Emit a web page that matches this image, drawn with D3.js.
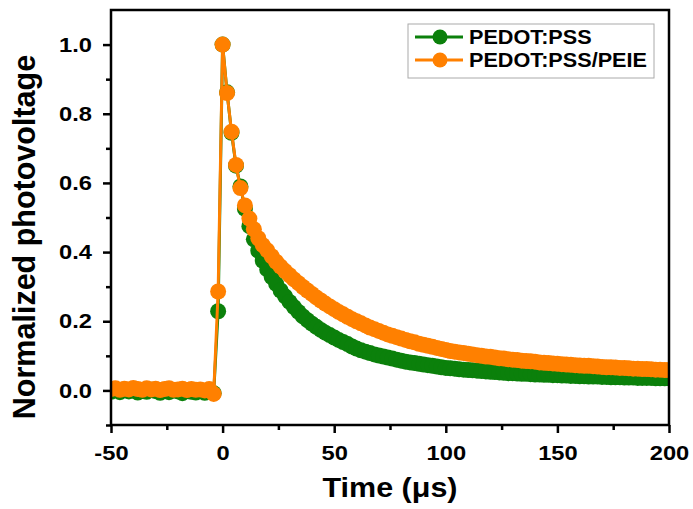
<!DOCTYPE html>
<html>
<head>
<meta charset="utf-8">
<script src="https://cdn.jsdelivr.net/npm/d3@7"></script>
<style>
  body { margin: 0; background: #fff; }
  text { font-family: "Liberation Sans", Arial, sans-serif; font-weight: bold; fill: #000; }
</style>
</head>
<body>
<svg id="chart"></svg>
<script>
// sampling grid of the scope trace, µs
const time = d3.range(-50, 201, 2);

// normalized photovoltage (t = -50 ... 200, step 2)
const pedotPss = [
  -0.004, 0.002, -0.005, 0.001, -0.003, 0.003, -0.006, 0.000, -0.004, 0.002, -0.002, -0.007,
  0.001, -0.005, 0.000, -0.003, -0.008, 0.001, -0.004, -0.006, -0.002, -0.007, -0.003, -0.008,
  0.229,
  1.000, 0.862, 0.745, 0.650, 0.590, 0.525, 0.475, 0.437, 0.404, 0.375, 0.350,
  0.328, 0.308, 0.289, 0.272, 0.256, 0.241, 0.227, 0.214, 0.203, 0.193,
  0.184, 0.175, 0.167, 0.160, 0.153, 0.146, 0.140, 0.134, 0.127, 0.121,
  0.116, 0.112, 0.108, 0.104, 0.101, 0.098, 0.095, 0.092, 0.089, 0.086,
  0.083, 0.081, 0.079, 0.077, 0.075, 0.073, 0.071, 0.069, 0.067, 0.065,
  0.064, 0.063, 0.061, 0.060, 0.059, 0.058, 0.057, 0.056, 0.055, 0.054,
  0.053, 0.052, 0.051, 0.050, 0.050, 0.049, 0.048, 0.048, 0.047, 0.046,
  0.046, 0.045, 0.045, 0.044, 0.044, 0.043, 0.043, 0.042, 0.042, 0.041,
  0.041, 0.040, 0.040, 0.040, 0.039, 0.039, 0.038, 0.038, 0.038, 0.037,
  0.037, 0.037, 0.036, 0.036, 0.036, 0.036, 0.035, 0.035, 0.035, 0.035
];
const pedotPssPeie = [
  0.004, 0.006, 0.002, 0.005, 0.003, 0.007, 0.004, 0.002, 0.006, 0.003, 0.005, 0.001,
  0.004, 0.006, 0.002, 0.003, 0.005, 0.001, 0.004, 0.002, 0.003, 0.000, 0.004, -0.010,
  0.286,
  1.000, 0.860, 0.748, 0.652, 0.585, 0.535, 0.497, 0.466, 0.440, 0.420, 0.405,
  0.388, 0.372, 0.358, 0.345, 0.333, 0.321, 0.310, 0.299, 0.289, 0.279,
  0.269, 0.260, 0.251, 0.243, 0.235, 0.227, 0.220, 0.213, 0.206, 0.200,
  0.194, 0.188, 0.182, 0.177, 0.172, 0.167, 0.162, 0.158, 0.154, 0.150,
  0.146, 0.142, 0.139, 0.135, 0.132, 0.129, 0.126, 0.123, 0.120, 0.117,
  0.114, 0.112, 0.110, 0.108, 0.106, 0.104, 0.102, 0.100, 0.098, 0.097,
  0.095, 0.093, 0.092, 0.090, 0.089, 0.088, 0.086, 0.085, 0.084, 0.083,
  0.081, 0.080, 0.079, 0.078, 0.077, 0.076, 0.075, 0.074, 0.073, 0.072,
  0.071, 0.071, 0.070, 0.069, 0.068, 0.067, 0.067, 0.066, 0.065, 0.065,
  0.064, 0.063, 0.063, 0.062, 0.062, 0.061, 0.060, 0.060, 0.059, 0.059
];

const seriesNames = ["PEDOT:PSS", "PEDOT:PSS/PEIE"];
const seriesColors = ["#0b800b", "#ff8000"];
const xTicks = [-50, 0, 50, 100, 150, 200];
const xMinor = [-25, 25, 75, 125, 175];
const yTicks = [0, 0.2, 0.4, 0.6, 0.8, 1.0];
const yMinor = [-0.1, 0.1, 0.3, 0.5, 0.7, 0.9];

const width = 693, height = 509;
const margin = { top: 10, right: 24, bottom: 84, left: 111 };
const stretch = 1.13; // glyphs in the source look a bit wide

const svg = d3.select("#chart").attr("width", width).attr("height", height);

const x = d3.scaleLinear().domain([-50, 200]).range([margin.left, width - margin.right]);
const y = d3.scaleLinear().domain([-0.1, 1.1]).range([height - margin.bottom, margin.top]);

svg.append("clipPath").attr("id", "plot-clip")
  .append("rect")
  .attr("x", margin.left).attr("y", margin.top)
  .attr("width", width - margin.left - margin.right)
  .attr("height", height - margin.top - margin.bottom);

// series: green first, orange on top
const series = [pedotPss, pedotPssPeie];
const plot = svg.append("g").attr("clip-path", "url(#plot-clip)");
const line = d3.line().x(d => x(d[0])).y(d => y(d[1]));

series.forEach((vals, i) => {
  const pts = time.map((t, k) => [t, vals[k]]);
  const g = plot.append("g");
  g.append("path")
    .attr("d", line(pts))
    .attr("fill", "none")
    .attr("stroke", seriesColors[i])
    .attr("stroke-width", 3);
  g.selectAll("circle")
    .data(pts)
    .join("circle")
    .attr("cx", d => x(d[0]))
    .attr("cy", d => y(d[1]))
    .attr("r", 8)
    .attr("fill", seriesColors[i]);
});

// axes (plain hyphen for negatives, like the source)
const fmtX = d => String(d);
const xAxis = svg.append("g").attr("transform", `translate(0,${height - margin.bottom})`)
  .call(d3.axisBottom(x).tickValues(xTicks).tickSize(8).tickPadding(12).tickFormat(fmtX));
svg.append("g").attr("transform", `translate(0,${height - margin.bottom})`)
  .call(d3.axisBottom(x).tickValues(xMinor).tickSize(5).tickFormat(""));
const yAxis = svg.append("g").attr("transform", `translate(${margin.left},0)`)
  .call(d3.axisLeft(y).tickValues(yTicks).tickSize(8).tickPadding(11).tickFormat(d => d.toFixed(1)));
svg.append("g").attr("transform", `translate(${margin.left},0)`)
  .call(d3.axisLeft(y).tickValues(yMinor).tickSize(5).tickFormat(""));

svg.selectAll(".domain").remove();
svg.selectAll(".tick line").attr("stroke", "#000").attr("stroke-width", 2.5);
xAxis.selectAll("text").style("font-size", "21px").attr("transform", `scale(${stretch},1)`);
yAxis.selectAll("text").style("font-size", "21px")
  .attr("x", -19 / stretch).attr("transform", `scale(${stretch},1)`);

// frame
svg.append("rect")
  .attr("x", margin.left).attr("y", margin.top)
  .attr("width", width - margin.left - margin.right)
  .attr("height", height - margin.top - margin.bottom)
  .attr("fill", "none").attr("stroke", "#000").attr("stroke-width", 2.5);

// axis titles
svg.append("text")
  .attr("text-anchor", "middle")
  .attr("transform", `translate(${(margin.left + width - margin.right) / 2},497) scale(${stretch},1)`)
  .style("font-size", "27px")
  .text("Time (μs)");
svg.append("text")
  .attr("text-anchor", "middle")
  .attr("transform", "translate(35,237) rotate(-90)")
  .style("font-size", "30.5px")
  .text("Normalized photovoltage");

// legend
const legend = svg.append("g");
legend.append("rect")
  .attr("x", 408).attr("y", 24).attr("width", 246).attr("height", 54)
  .attr("fill", "#fff").attr("stroke", "#aaa").attr("stroke-width", 1);
seriesNames.forEach((name, i) => {
  const ly = 37 + i * 23;
  legend.append("line")
    .attr("x1", 415).attr("x2", 463).attr("y1", ly).attr("y2", ly)
    .attr("stroke", seriesColors[i]).attr("stroke-width", 3);
  legend.append("circle")
    .attr("cx", 440).attr("cy", ly).attr("r", 7.5).attr("fill", seriesColors[i]);
  legend.append("text")
    .attr("transform", `translate(469,${ly + 7}) scale(1.11,1)`)
    .style("font-size", "19.5px")
    .text(name);
});
</script>
</body>
</html>
